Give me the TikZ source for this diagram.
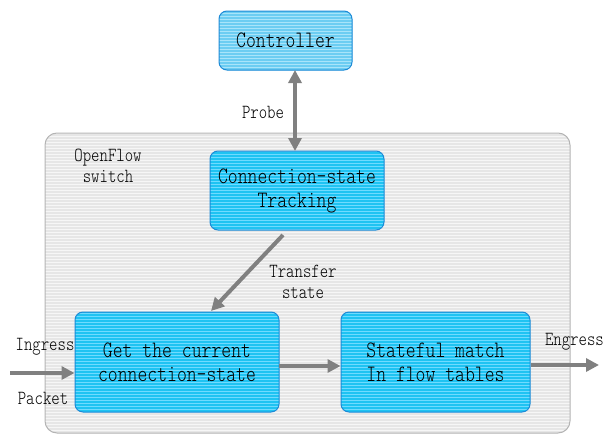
\documentclass[tikz,border=0pt]{standalone}
\usepackage{fontspec}
\setmonofont{Latin Modern Mono Light}[FakeStretch=0.8]
\usetikzlibrary{arrows.meta,patterns}
\definecolor{boxblue}{HTML}{1FC3F2}
\definecolor{stripeblue}{HTML}{6FDBFF}
\definecolor{ctrlblue}{HTML}{6CCDF2}
\definecolor{ctrlstripe}{HTML}{A8E4FA}
\definecolor{borderblue}{HTML}{1E8AD6}
\definecolor{swfill}{HTML}{E6E6E6}
\definecolor{swstripe}{HTML}{F6F6F6}
\definecolor{swborder}{HTML}{B4B4B4}
\definecolor{arrgray}{HTML}{808080}
\begin{document}
\begin{tikzpicture}[x=1pt,y=-1pt,
  bluebox/.style={draw=borderblue,line width=1pt,rounded corners=8pt,
    preaction={fill=boxblue},pattern=horizontal lines,pattern color=stripeblue,
    align=center,font=\ttfamily\fontsize{23.5}{24}\selectfont,inner sep=0pt},
  ctrlbox/.style={bluebox,preaction={fill=ctrlblue},pattern color=ctrlstripe},
  swbox/.style={draw=swborder,line width=1pt,rounded corners=12pt,
    preaction={fill=swfill},pattern=horizontal lines,pattern color=swstripe,inner sep=0pt},
  lbl/.style={align=center,font=\ttfamily\fontsize{20}{21.5}\selectfont,inner sep=0pt},
  arr/.style={draw=arrgray,line width=4pt,-{Triangle[length=13pt,width=13pt]}},
  darr/.style={draw=arrgray,line width=4pt,{Triangle[length=13pt,width=13pt]}-{Triangle[length=13pt,width=13pt]}}]
\useasboundingbox (0,0) rectangle (605,434);
\node[swbox,minimum width=525pt,minimum height=300pt] (sw) at (307.5,283) {};
\node[ctrlbox,minimum width=133pt,minimum height=59pt] (ctrl) at (285.5,40.5) {Controller};
\node[bluebox,minimum width=174pt,minimum height=79pt] (track) at (297,190.5) {Connection-state\\Tracking};
\node[bluebox,minimum width=204pt,minimum height=100pt] (get) at (177,362) {Get the current\\connection-state};
\node[bluebox,minimum width=189pt,minimum height=100pt] (match) at (435.5,362) {Stateful match\\In flow tables};
\node[lbl] (probe) at (263,112) {Probe};
\node[lbl] (ofs) at (108,166) {OpenFlow\\switch};
\node[lbl] (xfer) at (303,282) {Transfer\\state};
\node[lbl] (ingress) at (45,347) {Ingress};
\node[lbl] (packet) at (43,398) {Packet};
\node[lbl,anchor=east] (engress) at (604,342) {Engress};
\coordinate (c1) at (295,70);
\coordinate (c2) at (295,151);
\draw[darr] (c1) -- (c2);
\coordinate (d1) at (283,235);
\coordinate (d2) at (211,311);
\draw[arr] (d1) -- (d2);
\coordinate (m1) at (279,366);
\draw[arr] (m1) -- (match.west |- m1);
\coordinate (in) at (10,373);
\draw[arr] (in) -- (get.west |- in);
\coordinate (out) at (599,365);
\draw[arr] (match.east |- out) -- (out);
\end{tikzpicture}
\end{document}
